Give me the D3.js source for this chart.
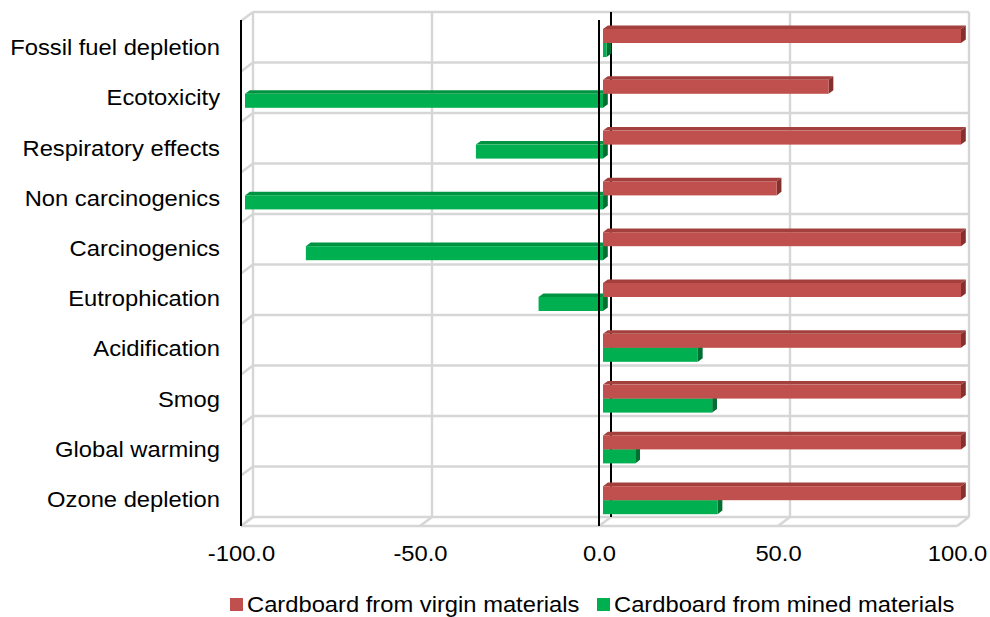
<!DOCTYPE html>
<html>
<head>
<meta charset="utf-8">
<script src="https://cdn.jsdelivr.net/npm/d3@7"></script>
<style>
  html, body { margin: 0; padding: 0; background: #fff; }
  svg { display: block; font-family: "Liberation Sans", Arial, sans-serif; }
</style>
</head>
<body>
<svg id="chart" width="990" height="617"></svg>
<script>
// Impact categories (top to bottom) and the two series, in percent
const categories = [
  "Fossil fuel depletion", "Ecotoxicity", "Respiratory effects", "Non carcinogenics",
  "Carcinogenics", "Eutrophication", "Acidification", "Smog", "Global warming", "Ozone depletion"
];
const virginValues = [100, 63, 100, 48.5, 100, 100, 100, 100, 100, 100];
const minedValues  = [1, -100, -35.5, -100, -83, -18, 26.5, 30.5, 9, 32];
const seriesNames  = ["Cardboard from virgin materials", "Cardboard from mined materials"];
const tickValues   = [-100, -50, 0, 50, 100];

const svg = d3.select("#chart");
const STRETCH = 1.08;            // horizontal text stretch
const DEPTH = { dx: 12, dy: -9 }; // offset of the back wall from the front edge

// Value scale at the front edge of the floor; deeper planes shift by z * DEPTH
const x = d3.scaleLinear().domain([-100, 100]).range([241, 957]);
// Category rows at the front edge of the box
const yRow = d3.scaleBand().domain(categories).range([21, 526]).paddingInner(0).paddingOuter(0);
// Row bands used by the series plane
const yBar = d3.scaleBand().domain(categories).range([18, 526]);
// Row bands used for the category labels
const yLabel = d3.scaleBand().domain(categories).range([22, 524]);

const px = (v, z) => x(v) + z * DEPTH.dx;
const py = (y, z) => y + z * DEPTH.dy;

const grid = svg.append("g").attr("fill", "none").attr("stroke", "#d6d6d6").attr("stroke-width", 2.4);
const yTop = yRow.range()[0], yBottom = yRow.range()[1];
const rowEdges = categories.map(c => yRow(c)).concat([yBottom]);

// back wall: vertical gridlines
tickValues.forEach(v => {
  if (v === 0) return;
  grid.append("line")
    .attr("x1", px(v, 1)).attr("x2", px(v, 1))
    .attr("y1", py(yTop, 1)).attr("y2", py(yBottom, 1));
});
// back wall: horizontal gridlines and side wall diagonals
rowEdges.forEach(y => {
  grid.append("line")
    .attr("x1", px(-100, 1)).attr("x2", px(100, 1))
    .attr("y1", py(y, 1)).attr("y2", py(y, 1));
  grid.append("line")
    .attr("x1", px(-100, 0)).attr("x2", px(-100, 1))
    .attr("y1", py(y, 0)).attr("y2", py(y, 1));
});
// floor: front edge and diagonals at each tick
grid.append("line")
  .attr("x1", px(-100, 0)).attr("x2", px(100, 0))
  .attr("y1", yBottom).attr("y2", yBottom);
tickValues.forEach(v => {
  grid.append("line")
    .attr("x1", px(v, 0)).attr("x2", px(v, 1))
    .attr("y1", py(yBottom, 0)).attr("y2", py(yBottom, 1));
});

// zero line on the back wall (behind the bars)
svg.append("line")
  .attr("x1", px(0, 1)).attr("x2", px(0, 1))
  .attr("y1", py(yTop, 1)).attr("y2", py(yBottom, 1))
  .attr("stroke", "#000").attr("stroke-width", 2);

// 3D bars: front face, top face and right side face
const BAR_Z = 1 / 3, BAR_DEPTH = 0.4, BAR_H = 14, BAR_OFFSET = 11;
const palettes = [
  { front: "#c0504d", top: "#a3403d", side: "#86302d" },
  { front: "#00b050", top: "#009442", side: "#006f31" }
];

function drawBar(g, value, yTopFace, pal) {
  const x0 = px(Math.min(0, value), BAR_Z);
  const x1 = px(Math.max(0, value), BAR_Z);
  const ddx = BAR_DEPTH * DEPTH.dx, ddy = BAR_DEPTH * DEPTH.dy;
  const y0 = yTopFace, y1 = yTopFace + BAR_H;
  g.append("polygon")
    .attr("points", [[x0, y0], [x0 + ddx, y0 + ddy], [x1 + ddx, y0 + ddy], [x1, y0]].join(" "))
    .attr("fill", pal.top);
  g.append("polygon")
    .attr("points", [[x1, y0], [x1 + ddx, y0 + ddy], [x1 + ddx, y1 + ddy], [x1, y1]].join(" "))
    .attr("fill", pal.side);
  g.append("rect")
    .attr("x", x0).attr("y", y0)
    .attr("width", Math.max(0, x1 - x0)).attr("height", BAR_H)
    .attr("fill", pal.front);
}

const bars = svg.append("g");
categories.forEach((c, i) => {
  const top = yBar(c) + BAR_OFFSET;
  // lower bar first so the upper one covers its top face
  drawBar(bars, minedValues[i], top + BAR_H, palettes[1]);
  drawBar(bars, virginValues[i], top, palettes[0]);
});

// front axis lines
svg.append("line")
  .attr("x1", px(0, 0)).attr("x2", px(0, 0))
  .attr("y1", yTop - 1).attr("y2", yBottom)
  .attr("stroke", "#000").attr("stroke-width", 2);
svg.append("line")
  .attr("x1", px(-100, 0)).attr("x2", px(-100, 0))
  .attr("y1", yTop - 1).attr("y2", yBottom)
  .attr("stroke", "#000").attr("stroke-width", 2);

// value axis labels
const xAxis = d3.axisBottom(x)
  .tickValues(tickValues)
  .tickFormat(d => d.toFixed(1))
  .tickSize(0)
  .tickPadding(0);
const xAxisG = svg.append("g").attr("transform", "translate(0,561)").call(xAxis);
xAxisG.select(".domain").remove();
xAxisG.selectAll("text")
  .attr("y", 0).attr("dy", 0)
  .attr("font-size", 22).attr("fill", "#000")
  .attr("font-family", "'Liberation Sans', Arial, sans-serif")
  .attr("transform", `scale(${STRETCH},1)`);

// category labels
const yAxis = d3.axisLeft(yLabel).tickSize(0).tickPadding(0);
const yAxisG = svg.append("g").attr("transform", "translate(220,0)").call(yAxis);
yAxisG.select(".domain").remove();
yAxisG.selectAll("text")
  .attr("x", 0).attr("dy", 8)
  .attr("font-size", 22).attr("fill", "#000")
  .attr("font-family", "'Liberation Sans', Arial, sans-serif")
  .attr("transform", `scale(${STRETCH},1)`);

// legend
const legendItems = [
  { name: seriesNames[0], color: palettes[0].front, x: 230 },
  { name: seriesNames[1], color: palettes[1].front, x: 597 }
];
legendItems.forEach(item => {
  const g = svg.append("g").attr("transform", `translate(${item.x},598)`);
  g.append("rect").attr("width", 13).attr("height", 13).attr("fill", item.color);
  g.append("text")
    .attr("transform", `translate(17,14) scale(${STRETCH},1)`)
    .attr("font-size", 22).attr("fill", "#000")
    .text(item.name);
});
</script>
</body>
</html>
